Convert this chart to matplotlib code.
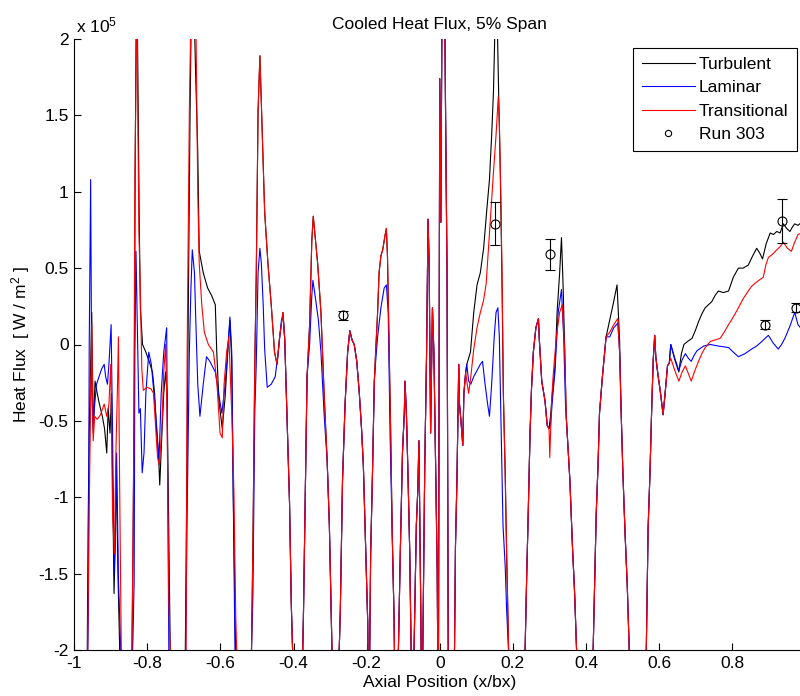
import numpy as np
import matplotlib
matplotlib.use('Agg')
import matplotlib.pyplot as plt
from matplotlib.lines import Line2D
from matplotlib.ticker import FormatStrFormatter

plt.rcParams['font.family'] = ['Liberation Sans', 'DejaVu Sans']
plt.rcParams['font.size'] = 12.5
plt.rcParams['mathtext.fontset'] = 'custom'
plt.rcParams['mathtext.rm'] = 'Liberation Sans'
plt.rcParams['mathtext.it'] = 'Liberation Sans:italic'

# heat flux in units of 1e5 W/m^2 against axial position x/bx
# values below -2 / above 2 run off the axes (clipped like the original)

# --- leading edge region, the three models differ ---
turb_a = [(-0.966, -2.6), (-0.962, -1.21), (-0.959, -0.58), (-0.952, 0.21), (-0.948, -0.58),
          (-0.943, -0.24), (-0.937, -0.32), (-0.931, -0.39), (-0.923, -0.47), (-0.917, -0.55),
          (-0.911, -0.71), (-0.907, -0.42), (-0.902, -0.58), (-0.898, -0.32), (-0.891, -1.63),
          (-0.888, -1.32), (-0.885, -0.79), (-0.880, -1.53), (-0.875, -2.05), (-0.870, -2.6)]
lam_a = [(-0.966, -2.6), (-0.961, -1.71), (-0.959, -0.03), (-0.955, 1.08), (-0.952, -0.32),
         (-0.948, -0.55), (-0.945, -0.42), (-0.939, -0.26), (-0.932, -0.21), (-0.925, -0.16),
         (-0.918, -0.13), (-0.914, -0.21), (-0.909, -0.26), (-0.905, -0.13), (-0.899, 0.13),
         (-0.895, -0.58), (-0.891, -1.5), (-0.887, -1.24), (-0.884, -0.71), (-0.879, -1.53),
         (-0.872, -2.05), (-0.868, -2.6)]
trans_a = [(-0.966, -2.6), (-0.959, -1.08), (-0.956, -0.58), (-0.952, 0.13), (-0.948, -0.63),
           (-0.944, -0.47), (-0.937, -0.49), (-0.928, -0.46), (-0.918, -0.39), (-0.911, -0.47),
           (-0.905, -0.39), (-0.900, -0.13), (-0.895, -1.11), (-0.890, -1.37), (-0.886, -0.71),
           (-0.882, -0.32), (-0.879, 0.05), (-0.876, -0.84), (-0.871, -2.05), (-0.867, -2.6)]

turb_b = [(-0.850, -2.6), (-0.842, -2.0), (-0.839, -1.32), (-0.835, 0.03), (-0.833, 1.26),
          (-0.829, 2.58), (-0.826, 1.79), (-0.822, 0.79), (-0.819, 0.24), (-0.813, 0.0),
          (-0.804, -0.05), (-0.795, -0.11), (-0.786, -0.18), (-0.780, -0.32), (-0.775, -0.55),
          (-0.769, -0.74), (-0.766, -0.92), (-0.760, -0.58), (-0.755, -0.32), (-0.750, -0.18),
          (-0.746, -0.32), (-0.742, -1.11), (-0.737, -2.05), (-0.732, -2.6)]
lam_b = [(-0.850, -2.6), (-0.840, -2.0), (-0.836, -1.55), (-0.834, -0.05), (-0.831, 0.61),
         (-0.828, 0.21), (-0.823, -0.45), (-0.819, -0.42), (-0.814, -0.84), (-0.809, -0.71),
         (-0.804, -0.32), (-0.796, -0.05), (-0.789, -0.13), (-0.780, -0.37), (-0.774, -0.55),
         (-0.768, -0.76), (-0.762, -0.32), (-0.755, -0.05), (-0.747, 0.11), (-0.744, -0.97),
         (-0.741, -2.05), (-0.736, -2.6)]
trans_b = [(-0.850, -2.6), (-0.842, -2.0), (-0.837, -0.68), (-0.834, 1.08), (-0.831, 1.71),
           (-0.829, 2.45), (-0.826, 1.53), (-0.823, 0.74), (-0.819, 0.34), (-0.815, -0.16),
           (-0.811, -0.30), (-0.801, -0.28), (-0.790, -0.29), (-0.783, -0.32), (-0.777, -0.55),
           (-0.772, -0.74), (-0.767, -0.79), (-0.760, -0.53), (-0.755, -0.18), (-0.750, 0.0),
           (-0.746, -0.45), (-0.741, -1.68), (-0.737, -2.05), (-0.732, -2.6)]

turb_c = [(-0.703, -2.6), (-0.696, -2.0), (-0.691, -0.58), (-0.687, 0.47), (-0.683, 1.53),
          (-0.677, 2.71), (-0.668, 1.79), (-0.662, 1.26), (-0.658, 0.61), (-0.647, 0.47),
          (-0.635, 0.37), (-0.624, 0.32), (-0.614, 0.26), (-0.610, -0.05), (-0.604, -0.37),
          (-0.595, -0.55), (-0.587, -0.34), (-0.580, -0.05), (-0.574, 0.16), (-0.569, -0.11),
          (-0.565, -0.97), (-0.558, -2.05), (-0.553, -2.6)]
lam_c = [(-0.703, -2.6), (-0.695, -2.0), (-0.691, -1.11), (-0.685, -0.05), (-0.681, 0.34),
         (-0.677, 0.62), (-0.671, 0.47), (-0.668, 0.21), (-0.662, -0.26), (-0.656, -0.47),
         (-0.647, -0.26), (-0.638, -0.08), (-0.629, -0.11), (-0.614, -0.18), (-0.605, -0.32),
         (-0.596, -0.45), (-0.587, -0.26), (-0.578, 0.03), (-0.574, 0.18), (-0.569, -0.05),
         (-0.565, -0.97), (-0.560, -2.05), (-0.555, -2.6)]
trans_c = [(-0.703, -2.6), (-0.694, -2.0), (-0.691, -0.05), (-0.685, 1.53), (-0.678, 2.58),
           (-0.668, 2.32), (-0.662, 1.0), (-0.658, 0.53), (-0.651, 0.26), (-0.644, 0.08),
           (-0.633, 0.0), (-0.619, -0.05), (-0.610, -0.24), (-0.601, -0.58), (-0.595, -0.61),
           (-0.590, -0.26), (-0.583, -0.05), (-0.577, 0.05), (-0.569, -0.45), (-0.563, -0.97),
           (-0.558, -1.79), (-0.555, -2.05), (-0.550, -2.6)]

# --- mid chord arches ---
arch_d = [(-0.520, -2.6), (-0.515, -2.0), (-0.511, -1.29), (-0.506, -0.13), (-0.502, 0.45),
          (-0.497, 1.53), (-0.492, 1.89), (-0.488, 1.58), (-0.483, 1.18), (-0.479, 0.87),
          (-0.470, 0.53), (-0.461, 0.26), (-0.452, -0.05), (-0.445, -0.13), (-0.438, 0.05),
          (-0.429, 0.21), (-0.424, 0.03), (-0.418, -0.47), (-0.411, -1.03), (-0.406, -1.71),
          (-0.402, -2.05), (-0.397, -2.6)]
lam_d = [(-0.520, -2.6), (-0.515, -2.0), (-0.511, -1.63), (-0.506, -0.45), (-0.502, -0.13),
         (-0.497, 0.47), (-0.492, 0.63), (-0.488, 0.53), (-0.483, 0.26), (-0.479, -0.03),
         (-0.472, -0.28), (-0.461, -0.26), (-0.450, -0.21), (-0.441, -0.03), (-0.433, 0.16),
         (-0.428, 0.18), (-0.424, 0.03), (-0.418, -0.47), (-0.411, -1.03), (-0.406, -1.71),
         (-0.402, -2.05), (-0.397, -2.6)]

arch_e = [(-0.380, -2.6), (-0.373, -1.79), (-0.367, -0.84), (-0.363, -0.21), (-0.356, 0.13),
          (-0.350, 0.68), (-0.346, 0.84), (-0.341, 0.71), (-0.334, 0.53), (-0.325, 0.21),
          (-0.316, -0.34), (-0.308, -0.76), (-0.302, -1.18), (-0.297, -1.74), (-0.294, -2.05),
          (-0.290, -2.6)]
lam_e = [(-0.380, -2.6), (-0.373, -1.79), (-0.367, -0.84), (-0.363, -0.21), (-0.356, 0.0),
         (-0.350, 0.32), (-0.347, 0.42), (-0.341, 0.32), (-0.332, 0.16), (-0.325, -0.05),
         (-0.316, -0.47), (-0.308, -0.76), (-0.302, -1.18), (-0.297, -1.74), (-0.294, -2.05),
         (-0.290, -2.6)]

arch_f = [(-0.282, -2.6), (-0.272, -1.74), (-0.266, -0.89), (-0.259, -0.39), (-0.252, -0.05),
          (-0.246, 0.09), (-0.240, 0.03), (-0.234, 0.0), (-0.227, -0.11), (-0.220, -0.32),
          (-0.214, -0.55), (-0.209, -0.79), (-0.205, -1.13), (-0.201, -1.47), (-0.197, -1.82),
          (-0.194, -2.6)]

arch_g = [(-0.189, -1.37), (-0.184, -0.84), (-0.179, -0.24), (-0.175, -0.03), (-0.170, 0.21),
          (-0.166, 0.47), (-0.161, 0.58), (-0.156, 0.62), (-0.150, 0.71), (-0.146, 0.76),
          (-0.143, 0.58), (-0.139, 0.05), (-0.134, -0.61), (-0.130, -1.24), (-0.125, -1.79),
          (-0.121, -2.6)]
lam_g = [(-0.189, -1.37), (-0.184, -0.84), (-0.179, -0.24), (-0.175, -0.10), (-0.170, 0.05),
         (-0.161, 0.24), (-0.152, 0.37), (-0.146, 0.39), (-0.141, 0.21), (-0.136, -0.58),
         (-0.130, -1.24), (-0.125, -1.79), (-0.121, -2.6)]

spikes_h = [(-0.118, -2.6), (-0.108, -1.37), (-0.102, -0.71), (-0.097, -0.45), (-0.095, -0.24),
            (-0.091, -0.47), (-0.087, -0.84), (-0.082, -1.37), (-0.078, -2.05), (-0.075, -2.6),
            (-0.064, -1.18), (-0.060, -0.95), (-0.057, -0.63), (-0.052, -1.71), (-0.049, -2.6),
            (-0.041, -0.79), (-0.036, -0.05), (-0.032, 0.82), (-0.029, 0.53), (-0.025, -0.58),
            (-0.020, 0.24), (-0.016, -0.05), (-0.011, -0.84), (-0.007, -1.47), (-0.004, -2.6),
            (0.000, 1.74), (0.003, 0.8), (0.007, 2.6), (0.012, 2.7), (0.016, 1.49),
            (0.020, 0.45), (0.024, -2.6)]

# --- suction side, models split again ---
foot_i = [(0.038, -2.6), (0.043, -1.32), (0.047, -0.89), (0.052, -0.13), (0.054, -0.39),
          (0.058, -0.50), (0.063, -0.66), (0.066, -0.32), (0.071, -0.18)]
turb_i = [(0.074, -0.13), (0.084, -0.05), (0.093, 0.21), (0.102, 0.39), (0.111, 0.47),
          (0.120, 0.63), (0.129, 0.89), (0.136, 1.08), (0.142, 1.37), (0.147, 1.66),
          (0.152, 2.18), (0.157, 2.16), (0.161, 1.66), (0.165, 1.21), (0.170, 0.47),
          (0.174, -0.32), (0.179, -0.84), (0.183, -1.37), (0.188, -1.95), (0.192, -2.6)]
lam_i = [(0.074, -0.13), (0.079, -0.24), (0.085, -0.26), (0.093, -0.21), (0.102, -0.17),
         (0.111, -0.13), (0.117, -0.11), (0.124, -0.26), (0.131, -0.39), (0.136, -0.47),
         (0.142, -0.26), (0.149, 0.05), (0.154, 0.21), (0.159, 0.24), (0.163, 0.05),
         (0.168, -0.58), (0.173, -1.18), (0.179, -1.45), (0.183, -1.74), (0.189, -2.05),
         (0.193, -2.6)]
trans_i = [(0.074, -0.24), (0.079, -0.32), (0.085, -0.21), (0.093, -0.03), (0.102, 0.11),
           (0.111, 0.21), (0.120, 0.29), (0.127, 0.40), (0.133, 0.62), (0.140, 0.87),
           (0.147, 1.13), (0.154, 1.37), (0.160, 1.62), (0.163, 1.45), (0.167, 1.0),
           (0.171, 0.37), (0.174, -0.32), (0.179, -0.84), (0.183, -1.37), (0.188, -1.95),
           (0.192, -2.6)]

foot_j = [(0.228, -2.6), (0.238, -1.50), (0.242, -1.11), (0.247, -0.58), (0.251, -0.29),
          (0.256, -0.05), (0.263, 0.11), (0.270, 0.17), (0.272, 0.05), (0.279, -0.24),
          (0.288, -0.37), (0.294, -0.53), (0.299, -0.55)]
turb_j = [(0.303, -0.47), (0.308, -0.32), (0.315, -0.16), (0.321, 0.21), (0.328, 0.47),
          (0.333, 0.70), (0.337, 0.42), (0.342, -0.05), (0.346, -0.47), (0.356, -0.89),
          (0.363, -1.32), (0.369, -1.63), (0.375, -2.05), (0.380, -2.6)]
lam_j = [(0.303, -0.53), (0.308, -0.37), (0.315, -0.18), (0.324, 0.21), (0.333, 0.36),
         (0.339, 0.05), (0.344, -0.39), (0.356, -0.89), (0.363, -1.32), (0.369, -1.63),
         (0.375, -2.05), (0.380, -2.6)]
trans_j = [(0.301, -0.74), (0.306, -0.37), (0.310, -0.21), (0.319, 0.05), (0.328, 0.21),
           (0.335, 0.26), (0.342, -0.05), (0.346, -0.47), (0.356, -0.89), (0.363, -1.32),
           (0.369, -1.63), (0.375, -2.05), (0.380, -2.6)]

foot_k = [(0.414, -2.6), (0.424, -1.53), (0.428, -1.11), (0.433, -0.79), (0.437, -0.45),
          (0.445, -0.21), (0.451, -0.05), (0.455, 0.05)]
turb_k = [(0.465, 0.16), (0.474, 0.26), (0.485, 0.39), (0.492, 0.03), (0.496, -0.42),
          (0.501, -0.84), (0.507, -1.24), (0.513, -1.58), (0.519, -2.05), (0.524, -2.6)]
lam_k = [(0.465, 0.05), (0.476, 0.11), (0.487, 0.14), (0.492, -0.05), (0.496, -0.42),
         (0.501, -0.84), (0.507, -1.24), (0.513, -1.58), (0.519, -2.05), (0.524, -2.6)]
trans_k = [(0.465, 0.08), (0.476, 0.13), (0.487, 0.17), (0.492, -0.05), (0.496, -0.42),
           (0.501, -0.84), (0.507, -1.24), (0.513, -1.58), (0.519, -2.05), (0.524, -2.6)]

# --- aft part, smooth rise toward trailing edge ---
foot_l = [(0.558, -2.6), (0.565, -2.0), (0.570, -1.2), (0.575, -0.85), (0.580, -0.40),
          (0.584, -0.10), (0.588, 0.06), (0.591, -0.08), (0.597, -0.20), (0.603, -0.30),
          (0.607, -0.38), (0.611, -0.46), (0.618, -0.28), (0.623, -0.14), (0.628, -0.12)]
turb_l = [(0.632, 0.0), (0.643, -0.10), (0.654, -0.18), (0.661, -0.06), (0.668, 0.0),
          (0.678, 0.02), (0.690, 0.04), (0.699, 0.09), (0.708, 0.15), (0.717, 0.20),
          (0.726, 0.24), (0.735, 0.26), (0.744, 0.28), (0.753, 0.32), (0.762, 0.35),
          (0.776, 0.34), (0.790, 0.35), (0.803, 0.44), (0.817, 0.50), (0.830, 0.50),
          (0.844, 0.52), (0.856, 0.58), (0.867, 0.63), (0.875, 0.60), (0.883, 0.56),
          (0.893, 0.66), (0.904, 0.73), (0.913, 0.72), (0.922, 0.74), (0.931, 0.73),
          (0.940, 0.79), (0.949, 0.76), (0.958, 0.74), (0.965, 0.77), (0.971, 0.79),
          (0.980, 0.78), (0.990, 0.80)]
lam_l = [(0.632, 0.0), (0.643, -0.09), (0.654, -0.17), (0.663, -0.10), (0.672, -0.06),
         (0.680, -0.09), (0.688, -0.11), (0.696, -0.07), (0.704, -0.04), (0.722, -0.01),
         (0.740, 0.0), (0.762, -0.01), (0.790, -0.02), (0.803, -0.05), (0.817, -0.08),
         (0.835, -0.06), (0.853, -0.03), (0.867, -0.01), (0.881, 0.02), (0.899, 0.06),
         (0.912, 0.01), (0.926, -0.03), (0.935, 0.0), (0.944, 0.04), (0.958, 0.12),
         (0.971, 0.21), (0.980, 0.13), (0.990, 0.10)]
trans_l = [(0.632, -0.09), (0.643, -0.17), (0.654, -0.24), (0.663, -0.18), (0.672, -0.14),
           (0.680, -0.19), (0.688, -0.24), (0.698, -0.17), (0.708, -0.11), (0.717, -0.06),
           (0.726, -0.02), (0.740, 0.02), (0.753, 0.03), (0.767, 0.04), (0.778, 0.08),
           (0.790, 0.13), (0.803, 0.18), (0.817, 0.24), (0.830, 0.30), (0.844, 0.35),
           (0.853, 0.38), (0.862, 0.40), (0.873, 0.42), (0.885, 0.44), (0.892, 0.52),
           (0.899, 0.57), (0.910, 0.59), (0.922, 0.62), (0.931, 0.64), (0.940, 0.67),
           (0.951, 0.63), (0.962, 0.61), (0.971, 0.67), (0.980, 0.72), (0.990, 0.73)]

# measured points, Run 303
run_x = [-0.264, 0.152, 0.301, 0.889, 0.937, 0.975]
run_y = [0.19, 0.79, 0.59, 0.13, 0.81, 0.24]
run_err = [0.03, 0.14, 0.10, 0.03, 0.145, 0.03]


def stitch(*segments):
    pts = [p for seg in segments for p in seg]
    x, y = zip(*pts)
    return np.array(x), np.array(y)


turb_x, turb_y = stitch(turb_a, turb_b, turb_c, arch_d, arch_e, arch_f, arch_g, spikes_h,
                        foot_i, turb_i, foot_j, turb_j, foot_k, turb_k, foot_l, turb_l)
lam_x, lam_y = stitch(lam_a, lam_b, lam_c, lam_d, lam_e, arch_f, lam_g, spikes_h,
                      foot_i, lam_i, foot_j, lam_j, foot_k, lam_k, foot_l, lam_l)
trans_x, trans_y = stitch(trans_a, trans_b, trans_c, arch_d, arch_e, arch_f, arch_g, spikes_h,
                          foot_i, trans_i, foot_j, trans_j, foot_k, trans_k, foot_l, trans_l)

fig = plt.figure(figsize=(8, 6.96), dpi=100)
# axes runs slightly past the right edge of the figure, as in the original screenshot
ax = fig.add_axes([74.2 / 800, 46 / 696, 731.1 / 800, 611 / 696])

ax.plot(turb_x, turb_y, color='black', lw=0.8)
ax.plot(lam_x, lam_y, color='#0000ff', lw=0.8)
ax.plot(trans_x, trans_y, color='#ff0000', lw=0.8)
ax.errorbar(run_x, run_y, yerr=run_err, fmt='o', mfc='none', mec='black', ecolor='black',
            ms=6.5, mew=0.8, elinewidth=0.8, capsize=3.7, capthick=0.8)

ax.set_xlim(-1, 1)
ax.set_ylim(-2, 2)
ax.set_xticks([-1, -0.8, -0.6, -0.4, -0.2, 0, 0.2, 0.4, 0.6, 0.8])
ax.set_yticks([-2, -1.5, -1, -0.5, 0, 0.5, 1, 1.5, 2])
ax.xaxis.set_major_formatter(FormatStrFormatter('%g'))
ax.yaxis.set_major_formatter(FormatStrFormatter('%g'))
ax.tick_params(direction='in', length=5, width=0.8, pad=4)
ax.spines['top'].set_visible(False)
ax.spines['right'].set_visible(False)

ax.set_title('Cooled Heat Flux, 5% Span', fontsize=12.5, pad=7.5)
ax.set_xlabel('Axial Position (x/bx)', labelpad=3)
ax.set_ylabel(r'Heat Flux  [ W / m$^{2}$ ]', labelpad=5)
fig.text(76 / 800, 1 - 32 / 696, r'x 10$^{5}$', ha='left', va='baseline')

handles = [Line2D([], [], color='black', lw=0.8),
           Line2D([], [], color='#0000ff', lw=0.8),
           Line2D([], [], color='#ff0000', lw=0.8),
           Line2D([], [], color='black', marker='o', ls='none', mfc='none', ms=4.5, mew=0.8)]
leg = ax.legend(handles, ['Turbulent', 'Laminar', 'Transitional', 'Run 303'],
                loc='upper right', bbox_to_anchor=(797 / 800, 1 - 48 / 696),
                bbox_transform=fig.transFigure, fancybox=False, framealpha=1,
                edgecolor='black', handlelength=3.05, handletextpad=0.23,
                labelspacing=0.48, borderpad=0.5, borderaxespad=0)
leg.get_frame().set_linewidth(0.8)

fig.savefig('out.png', dpi=100)
